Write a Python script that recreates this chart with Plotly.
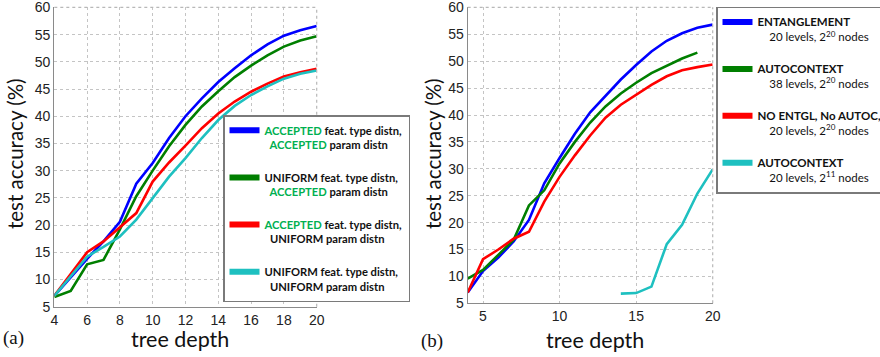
import plotly.graph_objects as go

# ---------------- data ----------------
depth = [4, 5, 6, 7, 8, 9, 10, 11, 12, 13, 14, 15, 16, 17, 18, 19, 20]

# panel (a)
a_acc_acc = [7.0, 10.5, 13.8, 17.0, 20.6, 27.6, 31.4, 36.0, 40.0, 43.3, 46.3, 48.8, 51.2, 53.2, 54.8, 55.8, 56.6]
a_uni_acc = [6.8, 7.9, 12.8, 13.6, 19.2, 25.3, 30.0, 34.5, 38.4, 41.8, 44.6, 47.2, 49.3, 51.2, 52.8, 53.9, 54.7]
a_acc_uni = [7.0, 11.0, 15.0, 17.0, 19.6, 22.2, 28.0, 31.5, 34.6, 37.8, 40.5, 42.7, 44.5, 46.0, 47.3, 48.1, 48.7]
a_uni_uni = [7.0, 10.6, 14.2, 16.0, 17.9, 21.0, 24.9, 28.9, 32.3, 36.0, 39.3, 41.9, 43.9, 45.5, 46.9, 47.8, 48.4]

# panel (b)
b_entangle = [7.0, 11.0, 13.5, 16.5, 20.5, 27.3, 32.0, 36.5, 40.5, 43.6, 46.6, 49.3, 51.8, 53.8, 55.2, 56.2, 56.8]
b_autoc38 = [9.6, 11.2, 14.0, 16.8, 23.2, 26.0, 31.0, 35.0, 38.6, 41.6, 44.0, 46.0, 47.8, 49.2, 50.5, 51.6]
b_noentgl = [7.0, 13.2, 15.0, 17.0, 18.3, 23.9, 28.5, 32.5, 36.2, 39.5, 41.9, 43.8, 45.6, 47.2, 48.3, 48.9, 49.4]
depth_autoc11 = [14, 15, 16, 17, 18, 19, 20]
b_autoc11 = [6.8, 6.9, 8.1, 16.0, 19.6, 25.4, 29.9]

x_ticks_a = [4, 6, 8, 10, 12, 14, 16, 18, 20]
x_ticks_b = [5, 10, 15, 20]
y_ticks = [5, 10, 15, 20, 25, 30, 35, 40, 45, 50, 55, 60]

colors = ["#0000ff", "#007f00", "#ff0000", "#1ec0c0"]
GREEN_TXT = "#00b050"

def acc(s):
    return f"<span style='color:{GREEN_TXT}'>{s}</span>"

NB = "&#160;"
legend_a = [
    f"<b>{acc('ACCEPTED')} feat. type distn,<br>{NB*2}{acc('ACCEPTED')} param distn</b>",
    f"<b>UNIFORM feat. type distn,<br>{NB*2}{acc('ACCEPTED')} param distn</b>",
    f"<b>{acc('ACCEPTED')} feat. type distn,<br>{NB*2}UNIFORM param distn</b>",
    f"<b>UNIFORM feat. type distn,<br>{NB*2}UNIFORM param distn</b>",
]
legend_b = [
    f"<b>ENTANGLEMENT</b><br>{NB*4}20 levels, 2<sup>20</sup> nodes",
    f"<b>AUTOCONTEXT</b><br>{NB*4}38 levels, 2<sup>20</sup> nodes",
    f"<b>NO ENTGL, No AUTOC,</b><br>{NB*4}20 levels, 2<sup>20</sup> nodes",
    f"<b>AUTOCONTEXT</b><br>{NB*4}20 levels, 2<sup>11</sup> nodes",
]

W, H = 880, 357
fig = go.Figure()

# panel (a) curves
for ys, c in zip([a_acc_acc, a_uni_acc, a_acc_uni, a_uni_uni], colors):
    fig.add_trace(go.Scatter(x=depth, y=ys, mode="lines", line=dict(color=c, width=2.6),
                             showlegend=False, xaxis="x", yaxis="y"))
# panel (b) curves
for xs, ys, c in zip([depth, depth[:len(b_autoc38)], depth, depth_autoc11],
                     [b_entangle, b_autoc38, b_noentgl, b_autoc11], colors):
    fig.add_trace(go.Scatter(x=xs, y=ys, mode="lines", line=dict(color=c, width=2.6),
                             showlegend=False, xaxis="x2", yaxis="y2"))

# legend entries
for i, (name, c) in enumerate(zip(legend_a, colors)):
    fig.add_trace(go.Scatter(x=[None], y=[None], mode="lines", line=dict(color=c, width=6),
                             name=name, legend="legend", legendgroup=f"a{i}",
                             xaxis="x", yaxis="y"))
for i, (name, c) in enumerate(zip(legend_b, colors)):
    fig.add_trace(go.Scatter(x=[None], y=[None], mode="lines", line=dict(color=c, width=6),
                             name=name, legend="legend2", legendgroup=f"b{i}",
                             xaxis="x2", yaxis="y2"))

tickfont = dict(family="Liberation Sans, Arial", size=14, color="#222")
grid = dict(showgrid=True, gridcolor="#c4c4c4", griddash="dot", gridwidth=1,
            showline=True, linecolor="#8a8a8a", linewidth=1.2, ticks="",
            zeroline=False, tickfont=tickfont, ticklabeloverflow="allow")

legfont_a = dict(family="Lato, Open Sans, sans-serif", size=11.2, color="#111")
legfont_b = dict(family="Lato, Open Sans, sans-serif", size=11.5, color="#111")
fig.update_layout(
    width=W, height=H,
    margin=dict(l=0, r=0, t=0, b=0, autoexpand=False),
    paper_bgcolor="white", plot_bgcolor="white",
    xaxis=dict(domain=[54.3 / W, 316.7 / W], range=[4, 20.001], tickvals=x_ticks_a,
               anchor="y", **grid),
    yaxis=dict(domain=[1 - 306.7 / H, 1 - 7.3 / H], range=[5, 60.02], tickvals=y_ticks,
               anchor="x", **grid),
    xaxis2=dict(domain=[467.7 / W, 712.7 / W], range=[4, 20.001], tickvals=x_ticks_b,
                anchor="y2", **grid),
    yaxis2=dict(domain=[1 - 303.3 / H, 1 - 7.3 / H], range=[5, 60.02], tickvals=y_ticks,
                anchor="x2", **grid),
    legend=dict(x=223 / W, y=1 - 115 / H, xanchor="left", yanchor="top",
                bgcolor="white", bordercolor="#7a7a7a", borderwidth=1.5,
                font=legfont_a, valign="top", tracegroupgap=15, itemwidth=30),
    legend2=dict(x=716 / W, y=1 - 6.5 / H, xanchor="left", yanchor="top",
                 bgcolor="white", bordercolor="#7a7a7a", borderwidth=1.5,
                 font=legfont_b, valign="top", tracegroupgap=14, itemwidth=30),
)

# dotted top/right frame
for xr, yr in [("x domain", "y domain"), ("x2 domain", "y2 domain")]:
    fig.add_shape(type="line", xref=xr, yref=yr, x0=0, x1=1, y0=1, y1=1,
                  line=dict(color="#b8b8b8", width=1.2, dash="dot"))
    fig.add_shape(type="line", xref=xr, yref=yr, x0=1, x1=1, y0=0, y1=1,
                  line=dict(color="#b8b8b8", width=1.2, dash="dot"))

ytitlefont = dict(family="Lato, Open Sans, sans-serif", size=20.5, color="#111")
xtitlefont = dict(family="Lato, Open Sans, sans-serif", size=21.5, color="#111")
def ann(x, y, text, font, angle=0):
    fig.add_annotation(x=x / W, y=1 - y / H, xref="paper", yref="paper", text=text,
                       showarrow=False, font=font, textangle=angle,
                       xanchor="center", yanchor="middle")

ann(15, 154, "test accuracy (%)", ytitlefont, -90)
ann(433, 154, "test accuracy (%)", ytitlefont, -90)
ann(180, 339, "tree depth", xtitlefont)
ann(595, 340, "tree depth", xtitlefont)
serif = dict(family="Liberation Serif, Times New Roman", size=19, color="#111")
ann(14, 338, "(a)", serif)
ann(432, 341, "(b)", serif)

fig.write_html("out.html")
